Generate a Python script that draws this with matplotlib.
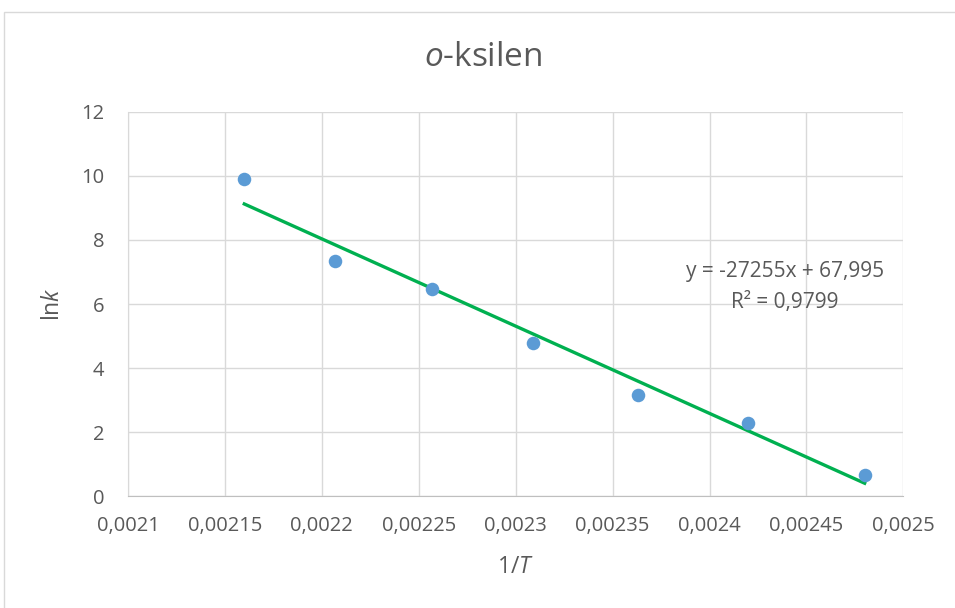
import numpy as np
import matplotlib.pyplot as plt
from matplotlib.patches import Rectangle
from matplotlib.ticker import FuncFormatter

# podaci
inv_T = [0.002160, 0.002207, 0.002257, 0.002309, 0.002363, 0.002420, 0.002480]
ln_k = [9.90, 7.33, 6.46, 4.77, 3.17, 2.29, 0.66]
slope = -27255
intercept = 67.995
r2_text = "R² = 0,9799"
eq_text = "y = -27255x + 67,995"

plt.rcParams['font.family'] = ['Open Sans', 'DejaVu Sans']
plt.rcParams['mathtext.fontset'] = 'custom'
plt.rcParams['mathtext.rm'] = 'Open Sans'
plt.rcParams['mathtext.it'] = 'Open Sans:italic'
gray = '#595959'

fig = plt.figure(figsize=(9.55, 6.08), dpi=100)
ax = fig.add_axes([0.134, 0.184, 0.812, 0.632])

# okvir grafikona
fig.patches.append(Rectangle((4 / 955, -0.01), 1.0, 1 - 12 / 608 + 0.01,
                             transform=fig.transFigure, fill=False,
                             edgecolor='#d9d9d9', linewidth=1))

ax.scatter(inv_T, ln_k, s=95, color='#5B9BD5', zorder=3, linewidths=0)
xl = np.array([min(inv_T), max(inv_T)])
ax.plot(xl, slope * xl + intercept, color='#00B050', linewidth=2.4, zorder=2)

ax.set_xlim(0.0021, 0.0025)
ax.set_ylim(0, 12)
ax.set_xticks(np.arange(0.0021, 0.00251, 0.00005))
ax.set_yticks(range(0, 13, 2))
ax.xaxis.set_major_formatter(FuncFormatter(lambda v, p: ('%.5f' % v).rstrip('0').replace('.', ',')))
ax.grid(True, color='#d9d9d9', linewidth=1)
ax.set_axisbelow(True)
for s in ['top', 'right']:
    ax.spines[s].set_visible(False)
ax.spines['left'].set_color('#d9d9d9')
ax.spines['bottom'].set_color('#bfbfbf')
ax.tick_params(length=0, labelsize=14.5, labelcolor=gray, pad=14)
ax.tick_params(axis='y', pad=17)

fig.text(0.506, 0.906, r'$\it{o}$-ksilen', fontsize=24, color=gray, ha='center', va='center')

ax.set_xlabel('1/$\\it{T}$', fontsize=16.5, color=gray, labelpad=14)
ax.set_ylabel('ln$\\it{k}$', fontsize=16.5, color=gray, labelpad=12)

ax.text(0.002439, 7.0, eq_text, fontsize=15, color=gray, ha='center', va='center')
ax.text(0.002439, 6.05, r2_text, fontsize=15, color=gray, ha='center', va='center')

fig.savefig('out.png', dpi=100)
